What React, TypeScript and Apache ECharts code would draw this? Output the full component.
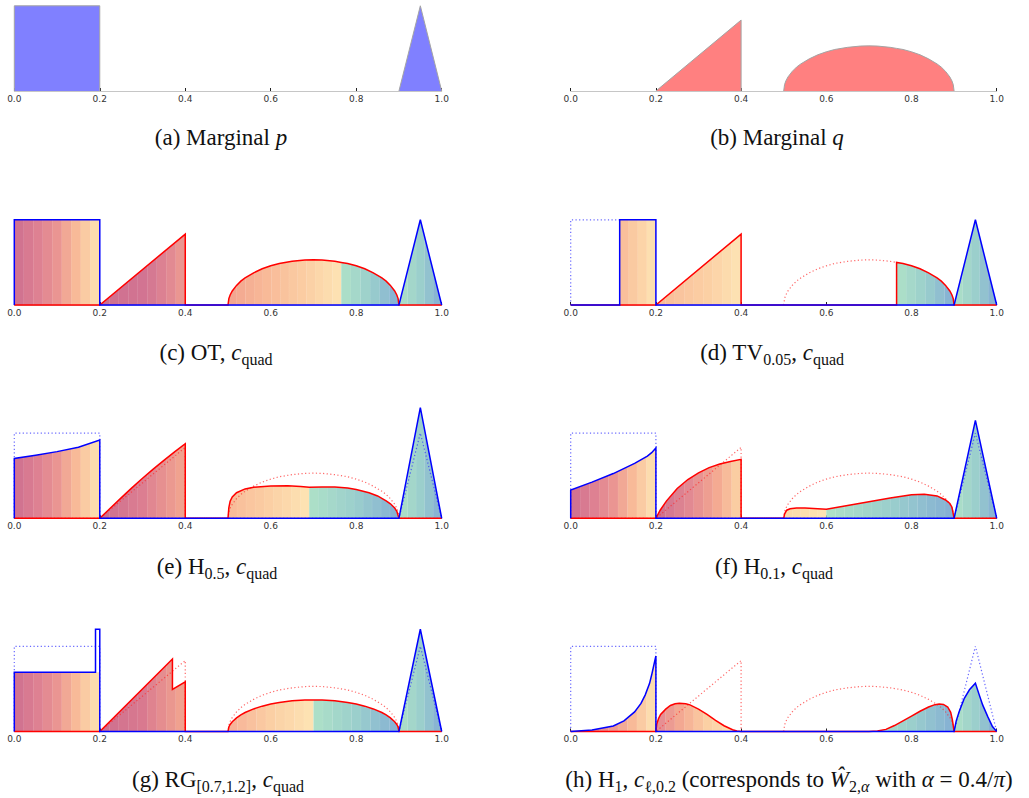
import React, { useEffect, useRef } from "react";
import * as echarts from "echarts";

type Pt = [number, number];
type Stop = [number, string];

// ---------- data ----------
const X_TICKS = [0, 0.2, 0.4, 0.6, 0.8, 1.0];

// marginal p: block on [0,0.2] and a spike on [0.9,1]
const P_RECT: Pt[] = [[0, 0], [0, 4], [0.2, 4], [0.2, 0]];
const P_TRI: Pt[] = [[0.9, 0], [0.95, 4], [1, 0]];
// marginal q: ramp on [0.2,0.4] and a half-ellipse on [0.5,0.9]
const Q_TRI: Pt[] = [[0.2, 0], [0.4, 3.33], [0.4, 0]];
const Q_ELL_A: Pt[] = [[0.5, 0], [0.502, 0.3], [0.505, 0.47], [0.51, 0.66], [0.52, 0.92], [0.53, 1.12], [0.54, 1.27], [0.56, 1.51], [0.58, 1.7], [0.6, 1.84], [0.62, 1.95], [0.65, 2.05], [0.68, 2.11], [0.7, 2.12], [0.72, 2.11], [0.75, 2.05], [0.765, 2.0]];
const Q_ELL_B: Pt[] = [[0.765, 2.0], [0.78, 1.95], [0.8, 1.84], [0.82, 1.7], [0.84, 1.51], [0.86, 1.27], [0.87, 1.12], [0.88, 0.92], [0.89, 0.66], [0.895, 0.47], [0.898, 0.3], [0.9, 0]];

// (d) TV
const D_RECT: Pt[] = [[0.115, 0], [0.115, 4], [0.2, 4], [0.2, 0]];

// (e) H 0.5
const E_RECT: Pt[] = [[0, 0], [0, 2.81], [0.05, 2.96], [0.1, 3.13], [0.15, 3.34], [0.2, 3.67], [0.2, 0]];
const E_TRI_P: Pt[] = [[0.9, 0], [0.95, 5.2], [1, 0]];
const E_TRI_Q: Pt[] = [[0.2, 0], [0.225, 0.48], [0.25, 0.96], [0.275, 1.43], [0.3, 1.88], [0.325, 2.31], [0.35, 2.72], [0.375, 3.12], [0.4, 3.5], [0.4, 0]];
const E_ELL_A: Pt[] = [[0.5, 0], [0.502, 0.5], [0.505, 0.8], [0.51, 1.0], [0.52, 1.2], [0.54, 1.38], [0.56, 1.46], [0.6, 1.52], [0.64, 1.53], [0.67, 1.49], [0.69, 1.46]];
const E_ELL_B: Pt[] = [[0.69, 1.46], [0.72, 1.47], [0.75, 1.47], [0.78, 1.42], [0.8, 1.35], [0.83, 1.2], [0.85, 1.05], [0.87, 0.82], [0.88, 0.68], [0.89, 0.48], [0.895, 0.33], [0.9, 0]];

// (f) H 0.1
const F_RECT: Pt[] = [[0, 0], [0, 1.33], [0.05, 1.7], [0.1, 2.1], [0.15, 2.58], [0.18, 2.92], [0.19, 3.08], [0.2, 3.3], [0.2, 0]];
const F_TRI_P: Pt[] = [[0.9, 0], [0.95, 4.6], [1, 0]];
const F_TRI_Q: Pt[] = [[0.2, 0], [0.21, 0.38], [0.225, 0.82], [0.25, 1.4], [0.275, 1.82], [0.3, 2.13], [0.325, 2.38], [0.35, 2.55], [0.375, 2.67], [0.4, 2.77], [0.4, 0]];
const F_ELL_A: Pt[] = [[0.5, 0], [0.502, 0.2], [0.507, 0.38], [0.515, 0.45], [0.53, 0.48], [0.55, 0.48], [0.58, 0.45], [0.6, 0.43]];
const F_ELL_B: Pt[] = [[0.6, 0.43], [0.62, 0.5], [0.65, 0.6], [0.7, 0.78], [0.75, 0.95], [0.8, 1.1], [0.83, 1.13], [0.86, 1.05], [0.88, 0.86], [0.89, 0.7], [0.895, 0.52], [0.9, 0]];

// (g) RG [0.7, 1.2]
const G_RECT: Pt[] = [[0, 0], [0, 2.78], [0.2, 2.78], [0.2, 0]];
const G_BLUE: Pt[] = [[0, 0], [0, 2.78], [0.19, 2.78], [0.19, 4.8], [0.2, 4.8], [0.2, 0], [0.9, 0], [0.95, 4.8], [1, 0]];
const G_TRI_P: Pt[] = [[0.9, 0], [0.95, 4.8], [1, 0]];
const G_TRI_Q: Pt[] = [[0.2, 0], [0.37, 3.4], [0.37, 1.98], [0.4, 2.33], [0.4, 0]];
const G_ELL_A: Pt[] = [[0.5, 0], [0.502, 0.21], [0.505, 0.33], [0.51, 0.46], [0.52, 0.64], [0.53, 0.78], [0.54, 0.89], [0.56, 1.06], [0.58, 1.19], [0.6, 1.29], [0.62, 1.36], [0.65, 1.44], [0.68, 1.48], [0.7, 1.48]];
const G_ELL_B: Pt[] = [[0.7, 1.48], [0.72, 1.48], [0.75, 1.44], [0.78, 1.36], [0.8, 1.29], [0.82, 1.19], [0.84, 1.06], [0.86, 0.89], [0.87, 0.78], [0.88, 0.64], [0.89, 0.46], [0.895, 0.33], [0.898, 0.21], [0.9, 0]];

// (h) H 1 with c_{l,0.2}
const H_LEFT: Pt[] = [[0, 0], [0.05, 0.07], [0.1, 0.26], [0.125, 0.5], [0.15, 0.92], [0.165, 1.32], [0.175, 1.72], [0.185, 2.25], [0.19, 2.65], [0.195, 3.1], [0.2, 3.55], [0.2, 0]];
const H_TRI_P: Pt[] = [[0.9, 0], [0.905, 0.5], [0.912, 0.94], [0.924, 1.56], [0.936, 1.96], [0.95, 2.27], [0.959, 1.72], [0.967, 1.25], [0.979, 0.7], [0.99, 0.23], [1, 0]];
const H_BUMP_Q: Pt[] = [[0.2, 0], [0.202, 0.35], [0.206, 0.6], [0.211, 0.8], [0.223, 1.05], [0.234, 1.22], [0.245, 1.3], [0.255, 1.33], [0.27, 1.3], [0.28, 1.25], [0.3, 1.05], [0.32, 0.8], [0.34, 0.52], [0.36, 0.27], [0.38, 0.08], [0.39, 0.02], [0.4, 0]];
const H_ELL: Pt[] = [[0.7, 0], [0.72, 0.02], [0.74, 0.1], [0.76, 0.28], [0.78, 0.5], [0.8, 0.72], [0.82, 0.95], [0.84, 1.15], [0.855, 1.26], [0.865, 1.29], [0.875, 1.27], [0.885, 1.15], [0.892, 0.9], [0.896, 0.55], [0.9, 0]];

const ZERO_L: Pt[] = [[0, 0]];
const ZERO_R: Pt[] = [[1, 0]];
const cat = (...parts: Pt[][]): Pt[] => ([] as Pt[]).concat(...parts);

const P_LINE = cat(P_RECT, P_TRI);
const Q_LINE = cat(ZERO_L, Q_TRI, Q_ELL_A, Q_ELL_B, ZERO_R);

// ---------- styles ----------
const PINK = "#CD6F8F";
const ROSE = "#DD7F92";
const CORAL = "#EA9592";
const SALMON = "#F2A48F";
const PEACH = "#F8BA98";
const APRICOT = "#FBCFA4";
const CREAM = "#FDE4B4";
const MINT = "#AEE1C7";
const TEAL = "#9BCFCC";
const SKY = "#84AFD4";

const BLOCK_STOPS: Stop[] = [[0, PINK], [0.25, ROSE], [0.5, CORAL], [0.72, PEACH], [1, CREAM]];
const COOL_STOPS: Stop[] = [[0, MINT], [0.5, TEAL], [1, SKY]];

const BLUE = "#0000FF";
const RED = "#FF0000";
const BLUE_DOT = "rgba(40,40,255,0.7)";
const RED_DOT = "rgba(255,40,40,0.7)";

const PX_PER_UNIT = 21.3;
const COL_LEFT = [14.3, 570.7];
const COL_WIDTH = [427.4, 426];
const ROW_BASE = [91, 305, 518.3, 731.5];
const ROW_MAX = [4.1, 4.1, 5.4, 5.0];

const SERIF = '"Liberation Serif", "Times New Roman", serif';

interface Fill { data: Pt[]; stops?: Stop[]; color?: string }
interface Trace { data: Pt[]; color: string; dotted?: boolean; width?: number }
interface Panel { row: number; col: number; fills: Fill[]; traces: Trace[]; caption: string; cx: number; cy: number }

const PANELS: Panel[] = [
  {
    row: 0, col: 0, cx: 221, cy: 137,
    caption: "{r|(a) Marginal }{i|p}",
    fills: [{ data: P_RECT, color: "#8080FF" }, { data: P_TRI, color: "#8080FF" }],
    traces: [{ data: P_RECT, color: "#A4A4A4", width: 1 }, { data: P_TRI, color: "#A4A4A4", width: 1 }],
  },
  {
    row: 0, col: 1, cx: 777, cy: 137,
    caption: "{r|(b) Marginal }{i|q}",
    fills: [{ data: Q_TRI, color: "#FF8080" }, { data: cat(Q_ELL_A, Q_ELL_B), color: "#FF8080" }],
    traces: [{ data: Q_TRI, color: "#A4A4A4", width: 1 }, { data: cat(Q_ELL_A, Q_ELL_B), color: "#A4A4A4", width: 1 }],
  },
  {
    row: 1, col: 0, cx: 216, cy: 352,
    caption: "{r|(c) OT, }{i|c}{s|quad}",
    fills: [
      { data: P_RECT, stops: BLOCK_STOPS },
      { data: Q_TRI, stops: [[0, PINK], [0.55, "#D27592"], [0.8, "#E08692"], [1, "#EE9C90"]] },
      { data: Q_ELL_A, stops: [[0, SALMON], [0.35, PEACH], [0.7, APRICOT], [1, CREAM]] },
      { data: Q_ELL_B, stops: COOL_STOPS },
      { data: P_TRI, stops: COOL_STOPS },
    ],
    traces: [{ data: Q_LINE, color: RED }, { data: P_LINE, color: BLUE }],
  },
  {
    row: 1, col: 1, cx: 772, cy: 352,
    caption: "{r|(d) TV}{s|0.05}{r|, }{i|c}{s|quad}",
    fills: [
      { data: D_RECT, stops: [[0, PEACH], [0.5, APRICOT], [1, CREAM]] },
      { data: Q_TRI, stops: [[0, PEACH], [0.6, APRICOT], [1, CREAM]] },
      { data: Q_ELL_B, stops: COOL_STOPS },
      { data: P_TRI, stops: COOL_STOPS },
    ],
    traces: [
      { data: cat(ZERO_L, [[0, 4], [0.115, 4]]), color: BLUE_DOT, dotted: true },
      { data: Q_ELL_A, color: RED_DOT, dotted: true },
      { data: cat(ZERO_L, Q_TRI, [[0.765, 0]], Q_ELL_B, ZERO_R), color: RED },
      { data: cat(ZERO_L, D_RECT, P_TRI), color: BLUE },
    ],
  },
  {
    row: 2, col: 0, cx: 217, cy: 566,
    caption: "{r|(e) H}{s|0.5}{r|, }{i|c}{s|quad}",
    fills: [
      { data: E_RECT, stops: BLOCK_STOPS },
      { data: E_TRI_Q, stops: [[0, PINK], [0.5, "#DC7E91"], [1, "#F3A68F"]] },
      { data: E_ELL_A, stops: [[0, PEACH], [0.5, APRICOT], [1, CREAM]] },
      { data: E_ELL_B, stops: COOL_STOPS },
      { data: E_TRI_P, stops: COOL_STOPS },
    ],
    traces: [
      { data: P_LINE, color: BLUE_DOT, dotted: true },
      { data: Q_LINE, color: RED_DOT, dotted: true },
      { data: cat(ZERO_L, E_TRI_Q, E_ELL_A, E_ELL_B, ZERO_R), color: RED },
      { data: cat(E_RECT, E_TRI_P), color: BLUE },
    ],
  },
  {
    row: 2, col: 1, cx: 774, cy: 566,
    caption: "{r|(f) H}{s|0.1}{r|, }{i|c}{s|quad}",
    fills: [
      { data: F_RECT, stops: BLOCK_STOPS },
      { data: F_TRI_Q, stops: [[0, PINK], [0.4, "#E38A92"], [0.7, "#F3A690"], [1, "#FCD6A6"]] },
      { data: F_ELL_A, stops: [[0, "#FCD9A8"], [1, CREAM]] },
      { data: F_ELL_B, stops: COOL_STOPS },
      { data: F_TRI_P, stops: COOL_STOPS },
    ],
    traces: [
      { data: P_LINE, color: BLUE_DOT, dotted: true },
      { data: Q_LINE, color: RED_DOT, dotted: true },
      { data: cat(ZERO_L, F_TRI_Q, F_ELL_A, F_ELL_B, ZERO_R), color: RED },
      { data: cat(F_RECT, F_TRI_P), color: BLUE },
    ],
  },
  {
    row: 3, col: 0, cx: 218, cy: 779,
    caption: "{r|(g) RG}{s|[0.7,1.2]}{r|, }{i|c}{s|quad}",
    fills: [
      { data: G_RECT, stops: BLOCK_STOPS },
      { data: G_TRI_Q, stops: [[0, PINK], [0.5, "#D9798F"], [1, "#F3A68F"]] },
      { data: G_ELL_A, stops: [[0, "#F6B096"], [0.5, APRICOT], [1, CREAM]] },
      { data: G_ELL_B, stops: COOL_STOPS },
      { data: G_TRI_P, stops: COOL_STOPS },
    ],
    traces: [
      { data: P_LINE, color: BLUE_DOT, dotted: true },
      { data: Q_LINE, color: RED_DOT, dotted: true },
      { data: cat(ZERO_L, G_TRI_Q, G_ELL_A, G_ELL_B, ZERO_R), color: RED },
      { data: G_BLUE, color: BLUE },
    ],
  },
  {
    row: 3, col: 1, cx: 789, cy: 779,
    caption: "{r|(h) H}{s|1}{r|, }{i|c}{s|ℓ,0.2}{r| (corresponds to }{i|Ŵ}{s|2,}{si|α}{r| with }{i|α}{r| = 0.4/}{i|π}{r|)}",
    fills: [
      { data: H_LEFT, stops: [[0, PINK], [0.45, CORAL], [0.72, PEACH], [1, CREAM]] },
      { data: H_BUMP_Q, stops: [[0, "#E38993"], [0.3, "#F4AA92"], [0.6, APRICOT], [1, CREAM]] },
      { data: H_ELL, stops: COOL_STOPS },
      { data: H_TRI_P, stops: COOL_STOPS },
    ],
    traces: [
      { data: P_LINE, color: BLUE_DOT, dotted: true },
      { data: Q_LINE, color: RED_DOT, dotted: true },
      { data: cat(ZERO_L, H_BUMP_Q, H_ELL, ZERO_R), color: RED },
      { data: cat(H_LEFT, H_TRI_P), color: BLUE },
    ],
  },
];

// ---------- colour helpers for the striped fills ----------
function hexRgb(h: string): number[] {
  const v = parseInt(h.slice(1), 16);
  return [(v >> 16) & 255, (v >> 8) & 255, v & 255];
}
function rgbStr(c: number[]): string {
  return `rgb(${c.map((x) => Math.round(x)).join(",")})`;
}
function sample(stops: Stop[], t: number): number[] {
  if (t <= stops[0][0]) return hexRgb(stops[0][1]);
  for (let i = 1; i < stops.length; i++) {
    if (t <= stops[i][0]) {
      const [o0, c0] = stops[i - 1];
      const [o1, c1] = stops[i];
      const f = (t - o0) / (o1 - o0 || 1);
      const a = hexRgb(c0), b = hexRgb(c1);
      return a.map((v, k) => v + (b[k] - v) * f);
    }
  }
  return hexRgb(stops[stops.length - 1][1]);
}
function stripedGradient(stops: Stop[], data: Pt[], plotWidth: number) {
  const xs = data.map((d) => d[0]);
  const widthPx = (Math.max(...xs) - Math.min(...xs)) * plotWidth;
  const n = Math.max(1, Math.round(widthPx / 9));
  const gap = Math.min(0.3 / n, 0.6 / Math.max(widthPx, 1));
  const out: { offset: number; color: string }[] = [];
  for (let k = 0; k < n; k++) {
    const t0 = k / n, t1 = (k + 1) / n;
    const c = sample(stops, (t0 + t1) / 2);
    out.push({ offset: k === 0 ? 0 : t0 + gap, color: rgbStr(c) });
    out.push({ offset: k === n - 1 ? 1 : t1 - gap, color: rgbStr(c) });
    if (k < n - 1) {
      const nxt = sample(stops, (t1 + (k + 2) / n) / 2);
      const light = c.map((v, i) => ((v + nxt[i]) / 2) * 0.82 + 255 * 0.18);
      out.push({ offset: t1, color: rgbStr(light) });
    }
  }
  return new echarts.graphic.LinearGradient(0, 0, 1, 0, out);
}

function buildOption() {
  const grid: any[] = [];
  const xAxis: any[] = [];
  const yAxis: any[] = [];
  const series: any[] = [];
  const graphic: any[] = [];

  PANELS.forEach((p, i) => {
    const h = ROW_MAX[p.row] * PX_PER_UNIT;
    grid.push({ left: COL_LEFT[p.col], width: COL_WIDTH[p.col], top: ROW_BASE[p.row] - h, height: h, outerBoundsMode: "none", containLabel: false });
    xAxis.push({
      type: "value", gridIndex: i, min: X_TICKS[0], max: X_TICKS[X_TICKS.length - 1], interval: 0.2,
      axisLine: { show: true, onZero: false, lineStyle: { color: "#C6C6C6", width: 1 } },
      axisTick: { show: true, inside: true, length: 3, lineStyle: { color: "#222", width: 1 } },
      axisLabel: {
        show: true, fontSize: 9, color: "#333", margin: 3, showMinLabel: true, showMaxLabel: true,
        fontFamily: '"DejaVu Sans", sans-serif', formatter: (v: number) => v.toFixed(1),
      },
      splitLine: { show: false },
    });
    yAxis.push({ type: "value", gridIndex: i, min: 0, max: ROW_MAX[p.row], show: false });

    p.fills.forEach((f) => {
      series.push({
        type: "line", xAxisIndex: i, yAxisIndex: i, data: f.data, symbol: "none", showSymbol: false,
        silent: true, clip: false, z: 1,
        lineStyle: { width: 0, opacity: 0 },
        areaStyle: { opacity: 1, color: f.color ? f.color : stripedGradient(f.stops!, f.data, COL_WIDTH[p.col]) },
      });
    });
    p.traces.forEach((t, k) => {
      series.push({
        type: "line", xAxisIndex: i, yAxisIndex: i, data: t.data, symbol: "none", showSymbol: false,
        silent: true, clip: false, z: t.dotted ? 3 : 4 + k,
        lineStyle: { color: t.color, width: t.width ?? (t.dotted ? 1.2 : 1.5), type: t.dotted ? [1.2, 2.4] : "solid", join: "miter" },
      });
    });

    graphic.push({
      type: "text", x: p.cx, y: p.cy, silent: true,
      style: {
        text: p.caption, rich: RICH, align: "center", verticalAlign: "middle",
        textAlign: "center", textVerticalAlign: "middle",
      },
    });
  });

  return { animation: false, backgroundColor: "#fff", grid, xAxis, yAxis, series, graphic };
}

const RICH = {
  r: { fontFamily: SERIF, fontSize: 23, lineHeight: 30, fill: "#111", color: "#111", verticalAlign: "middle" },
  i: { fontFamily: SERIF, fontStyle: "italic", fontSize: 23, lineHeight: 30, fill: "#111", color: "#111", verticalAlign: "middle" },
  s: { fontFamily: SERIF, fontSize: 16, lineHeight: 17, fill: "#111", color: "#111", verticalAlign: "bottom" },
  si: { fontFamily: SERIF, fontStyle: "italic", fontSize: 16, lineHeight: 17, fill: "#111", color: "#111", verticalAlign: "bottom" },
};

export default function App() {
  const ref = useRef<HTMLDivElement>(null);
  useEffect(() => {
    const chart = echarts.init(ref.current!, null, { renderer: "svg" });
    chart.setOption(buildOption());
    return () => chart.dispose();
  }, []);
  return (
    <div
      ref={ref}
      style={{ position: "fixed", left: 0, top: 0, width: 1029, height: 798, background: "#fff" }}
    />
  );
}
